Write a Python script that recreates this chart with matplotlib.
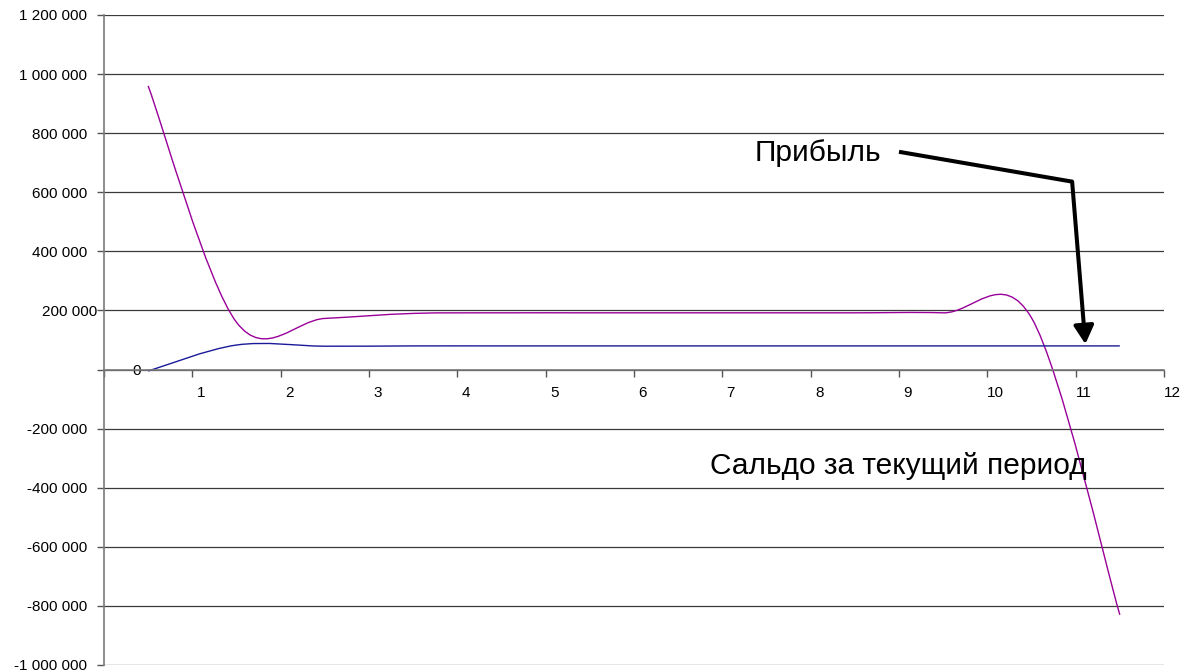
import matplotlib
matplotlib.use("Agg")
import matplotlib.pyplot as plt
from matplotlib.path import Path
from matplotlib.patches import PathPatch
from matplotlib.transforms import ScaledTranslation

plt.rcParams['font.family'] = ['Liberation Sans', 'DejaVu Sans']

# данные
periods = [0.5, 1.5, 2.5, 3.5, 4.5, 5.5, 6.5, 7.5, 8.5, 9.5, 10.5, 11.5]
profit = [-5000, 83000, 79000, 80000, 80000, 80000, 80000, 80000, 80000, 80000, 80000, 80000]
balance = [960000, 160000, 173000, 190000, 192000, 192000, 192000, 192000, 192000, 192000, 175000, -830000]
x_ticks = list(range(0, 13))
x_labels = [''] + [str(i) for i in range(1, 13)]
y_ticks = list(range(-1000000, 1200001, 200000))


def fmt(v):
    return f"{v:,}".replace(",", " ")


def smooth_path(xs, ys):
    # сглаживание как в Excel (кривые Безье через точки)
    verts = [(xs[0], ys[0])]
    codes = [Path.MOVETO]
    n = len(xs)
    for i in range(n - 1):
        i0 = max(i - 1, 0)
        i3 = min(i + 2, n - 1)
        c1 = (xs[i] + (xs[i + 1] - xs[i0]) / 6, ys[i] + (ys[i + 1] - ys[i0]) / 6)
        c2 = (xs[i + 1] - (xs[i3] - xs[i]) / 6, ys[i + 1] - (ys[i3] - ys[i]) / 6)
        verts += [c1, c2, (xs[i + 1], ys[i + 1])]
        codes += [Path.CURVE4] * 3
    return Path(verts, codes)


fig = plt.figure(figsize=(11.91, 6.72), dpi=100)
ax = fig.add_axes([104 / 1191, 7 / 672, 1060 / 1191, 650 / 672])
ax.set_xlim(0, 12)
ax.set_ylim(-1000000, 1200000)

ax.add_patch(PathPatch(smooth_path(periods, balance), fill=False, edgecolor='#990099', lw=1.0))
ax.add_patch(PathPatch(smooth_path(periods, profit), fill=False, edgecolor='#1a1a99', lw=1.0))

ax.grid(axis='y', color='#3a3a3a', lw=0.9)
ax.grid(axis='x', visible=False)
ax.set_axisbelow(True)

for s in ['top', 'right']:
    ax.spines[s].set_visible(False)
ax.spines['left'].set_color('#7a7a7a')
ax.spines['left'].set_linewidth(1.2)
ax.spines['bottom'].set_position(('data', 0))
ax.spines['bottom'].set_color('#7a7a7a')
ax.spines['bottom'].set_linewidth(1.2)

ax.set_xticks(x_ticks, labels=x_labels)
ax.set_yticks(y_ticks, labels=[fmt(v) for v in y_ticks])
ax.tick_params(axis='both', direction='out', length=5, width=1, color='#555555',
               labelsize=11, labelcolor='black', pad=7)

for lab in ax.get_xticklabels():
    lab.set_transform(lab.get_transform() + ScaledTranslation(0.085, 0, fig.dpi_scale_trans))
for lab in ax.get_yticklabels():
    dx = 0
    if lab.get_text() == '0':
        dx = 0.54
    elif lab.get_text() == '200 000':
        dx = 0.10
    if dx:
        lab.set_transform(lab.get_transform() + ScaledTranslation(dx, 0, fig.dpi_scale_trans))

# подписи
ax.text(7.37, 706000, 'Прибыль', fontsize=21.5, va='baseline', ha='left')
ax.text(6.86, -352000, 'Сальдо за текущий период', fontsize=21.5, va='baseline', ha='left')

ax.plot([9.0, 10.96], [737000, 636000], color='black', lw=2.9, solid_capstyle='butt')
ax.annotate('', xy=(11.11, 86000), xytext=(10.96, 636000),
            arrowprops=dict(arrowstyle='-|>,head_length=0.55,head_width=0.3', color='black',
                            lw=2.9, mutation_scale=20, shrinkA=0, shrinkB=0))

fig.savefig('out.png', dpi=100)
